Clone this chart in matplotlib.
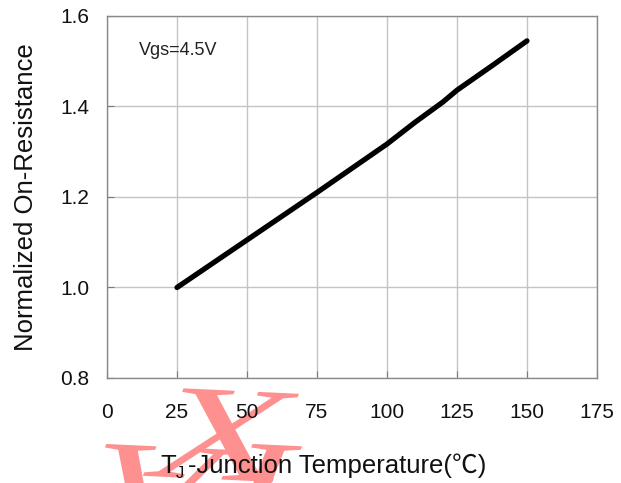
import numpy as np
import matplotlib
matplotlib.use('Agg')
import matplotlib.pyplot as plt
from matplotlib.textpath import TextPath
from matplotlib.patches import PathPatch
from matplotlib.font_manager import FontProperties
from matplotlib.transforms import Affine2D, IdentityTransform

plt.rcParams['font.family'] = ['Liberation Sans', 'Noto Sans CJK SC', 'DejaVu Sans']

# Data
temperature = [25, 50, 75, 100, 110, 120, 125, 137.5, 150]
norm_rds_on = [1.0, 1.105, 1.21, 1.317, 1.365, 1.41, 1.436, 1.49, 1.545]

x_ticks = [0, 25, 50, 75, 100, 125, 150, 175]
y_ticks = [0.8, 1.0, 1.2, 1.4, 1.6]
y_tick_labels = ['0.8', '1.0', '1.2', '1.4', '1.6']

W, H = 621, 483
fig = plt.figure(figsize=(W / 100, H / 100), dpi=100)
ax = fig.add_axes([0.1723, 0.2174, 0.789, 0.7495])

ax.plot(temperature, norm_rds_on, color='black', lw=3.8,
        solid_capstyle='round', zorder=3)

ax.set_xlim(0, 175)
ax.set_ylim(0.8, 1.6)
ax.set_xticks(x_ticks)
ax.set_yticks(y_ticks)
ax.set_yticklabels(y_tick_labels)
ax.grid(True, color='#c4c4c4', lw=1.0)
ax.tick_params(direction='in', length=5, color='#7a7a7a',
               labelsize=15, labelcolor='#111111')
ax.tick_params(axis='x', pad=18)
ax.tick_params(axis='y', pad=12.5)
for s in ax.spines.values():
    s.set_color('#8a8a8a')
    s.set_linewidth(1.0)

ax.set_ylabel('Normalized On-Resistance', fontsize=18.5, color='#111111')
ax.yaxis.set_label_coords(-0.14, 0.5)

# x label with subscript J, built from chained texts
t1 = fig.text(160 / W, 10 / H, 'T', fontsize=18.5, color='#111111', va='baseline')
ax.annotate('J', xy=(1, 0), xycoords=t1, xytext=(0, -2),
            textcoords='offset points', fontsize=12, color='#111111',
            va='bottom', ha='left', annotation_clip=False)
ax.annotate('-Junction Temperature(℃)', xy=(1, 0), xycoords=t1,
            xytext=(8.5, 0), textcoords='offset points', fontsize=18.5,
            color='#111111', va='bottom', ha='left', annotation_clip=False)

ax.text(0.065, 0.905, 'Vgs=4.5V', transform=ax.transAxes, fontsize=13,
        color='#222222', va='center', ha='left')

# red watermark letters (skewed), placed in pixel coordinates
wm_font = FontProperties(family='Liberation Serif')
wm_matrix = np.array([[1.90, 0.53, 0.0], [-0.09, 1.34, 0.0], [0.0, 0.0, 1.0]])


def stamp(ch, cx, cy, size):
    tp = TextPath((0, 0), ch, size=size, prop=wm_font)
    ext = tp.get_extents()
    tr = (Affine2D().translate(-(ext.x0 + ext.x1) / 2, -(ext.y0 + ext.y1) / 2)
          + Affine2D(wm_matrix)
          + Affine2D().translate(cx, H - cy))
    patch = PathPatch(tr.transform_path(tp), transform=IdentityTransform(),
                      facecolor='#ff9090', edgecolor='none', zorder=-1)
    fig.add_artist(patch)


stamp('V', 155, 492, 100)
stamp('X', 225, 435, 100)
stamp('I', 260, 489, 100)

fig.savefig('out.png', dpi=100, facecolor='white')
